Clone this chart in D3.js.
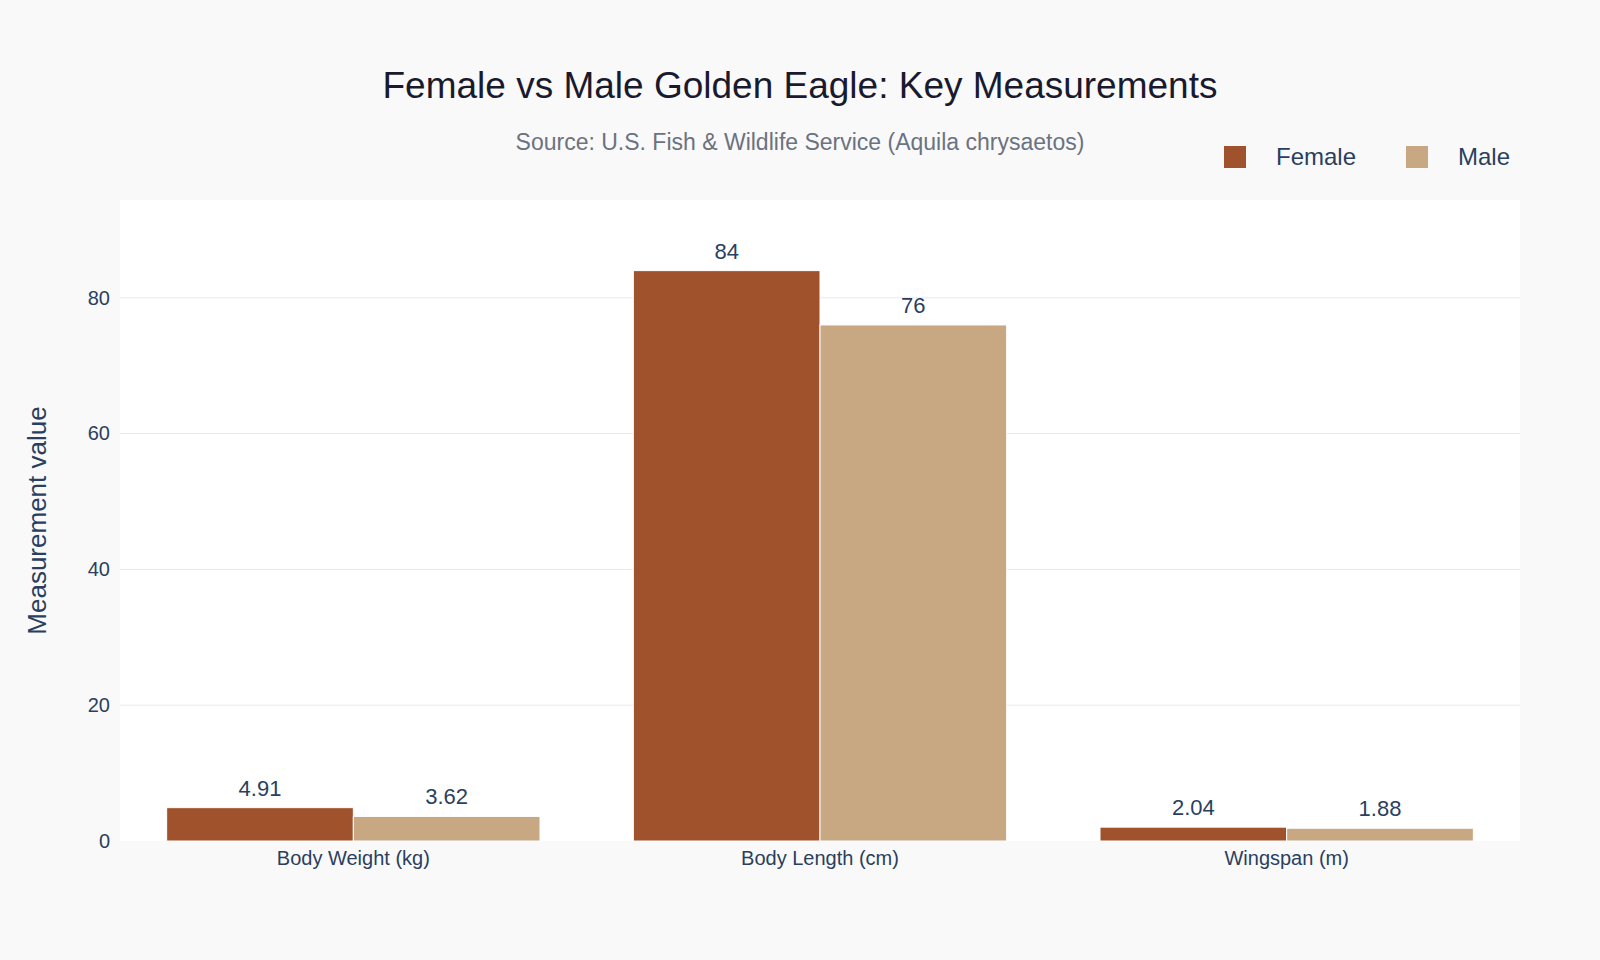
<!DOCTYPE html>
<html>
<head>
<meta charset="UTF-8">
<script src="https://cdn.jsdelivr.net/npm/d3@7"></script>
<style>
  body { margin: 0; background: #f9f9f9; font-family: "Liberation Sans", Arial, sans-serif; }
  .grid line { stroke: #e5e8ec; stroke-width: 1px; }
  .axis text { fill: #2a3f5f; font-size: 20px; }
</style>
</head>
<body>
<script>
var categories = ["Body Weight (kg)", "Body Length (cm)", "Wingspan (m)"];
var seriesNames = ["Female", "Male"];
var female = [4.91, 84, 2.04];
var male = [3.62, 76, 1.88];
var colors = ["#a0522d", "#c8a882"];
var yTicks = [0, 20, 40, 60, 80];

var w = 1600, h = 960;
var margin = { top: 200, right: 80, bottom: 119, left: 120 };
var iw = w - margin.left - margin.right, ih = h - margin.top - margin.bottom;

var svg = d3.select("body").append("svg").attr("width", w).attr("height", h);
svg.append("rect").attr("width", w).attr("height", h).attr("fill", "#f9f9f9");

var g = svg.append("g").attr("transform", "translate(" + margin.left + "," + margin.top + ")");
g.append("rect").attr("width", iw).attr("height", ih).attr("fill", "#fff");

var x0 = d3.scaleBand().domain(categories).range([0, iw]).paddingInner(0.2).paddingOuter(0.1);
var x1 = d3.scaleBand().domain(seriesNames).range([0, x0.bandwidth()]);
var y = d3.scaleLinear().domain([0, 94.4]).range([ih, 0]);

g.append("g").attr("class", "grid").selectAll("line").data(yTicks.slice(1)).enter().append("line")
  .attr("x1", 0).attr("x2", iw).attr("y1", function(d) { return y(d); }).attr("y2", function(d) { return y(d); });

var rows = categories.map(function(c, i) { return [{ s: "Female", v: female[i], c: c }, { s: "Male", v: male[i], c: c }]; });

var grp = g.selectAll(".cat").data(rows).enter().append("g")
  .attr("transform", function(d, i) { return "translate(" + x0(categories[i]) + ",0)"; });

grp.selectAll("rect").data(function(d) { return d; }).enter().append("rect")
  .attr("x", function(d) { return x1(d.s); })
  .attr("width", x1.bandwidth())
  .attr("y", function(d) { return y(d.v); })
  .attr("height", function(d) { return ih - y(d.v); })
  .attr("fill", function(d, i) { return colors[i]; })
  .attr("stroke", "#fff").attr("stroke-width", 1);

grp.selectAll("text").data(function(d) { return d; }).enter().append("text")
  .attr("x", function(d) { return x1(d.s) + x1.bandwidth() / 2; })
  .attr("y", function(d) { return y(d.v) - 12; })
  .attr("text-anchor", "middle").attr("fill", "#2a3f5f").attr("font-size", 22)
  .text(function(d) { return d.v; });

var xAxis = g.append("g").attr("class", "axis").attr("transform", "translate(0," + ih + ")")
  .call(d3.axisBottom(x0).tickSize(0).tickPadding(10));
xAxis.select(".domain").remove();
xAxis.selectAll("text").attr("font-size", 22);

var yAxis = g.append("g").attr("class", "axis")
  .call(d3.axisLeft(y).tickValues(yTicks).tickSize(0).tickPadding(10));
yAxis.select(".domain").remove();

svg.append("text").attr("transform", "translate(46," + (margin.top + ih / 2) + ") rotate(-90)")
  .attr("text-anchor", "middle").attr("fill", "#2a3f5f").attr("font-size", 26).text("Measurement value");

svg.append("text").attr("x", 800).attr("y", 98).attr("text-anchor", "middle")
  .attr("fill", "#1a1a2e").attr("font-size", 37).text("Female vs Male Golden Eagle: Key Measurements");
svg.append("text").attr("x", 800).attr("y", 150).attr("text-anchor", "middle")
  .attr("fill", "#6b7280").attr("font-size", 23).text("Source: U.S. Fish & Wildlife Service (Aquila chrysaetos)");

var legX = [1224, 1406];
seriesNames.forEach(function(s, i) {
  svg.append("rect").attr("x", legX[i]).attr("y", 146).attr("width", 22).attr("height", 22).attr("fill", colors[i]);
  svg.append("text").attr("x", legX[i] + 52).attr("y", 165).attr("fill", "#2a3f5f").attr("font-size", 24).text(s);
});
</script>
</body>
</html>
